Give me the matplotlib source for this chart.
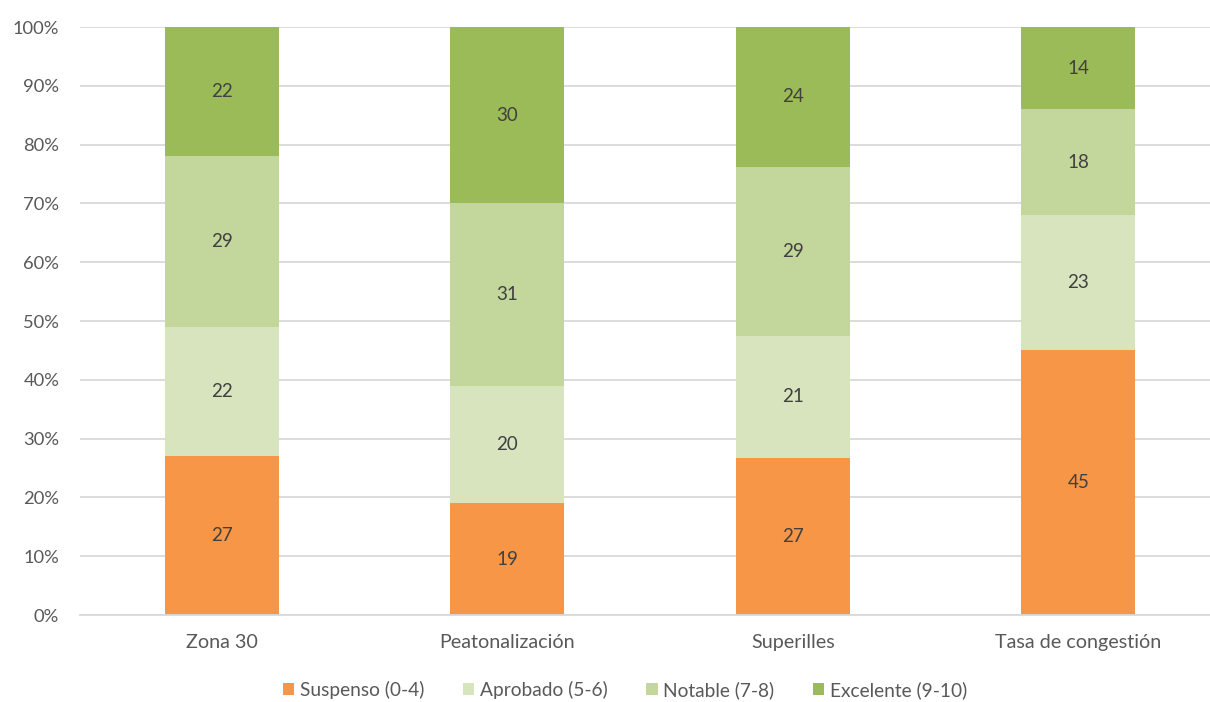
import matplotlib
matplotlib.use("Agg")
import matplotlib.pyplot as plt
import numpy as np

categories = ["Zona 30", "Peatonalización", "Superilles", "Tasa de congestión"]
series_names = ["Suspenso (0-4)", "Aprobado (5-6)", "Notable (7-8)", "Excelente (9-10)"]
suspenso = [27, 19, 27, 45]
aprobado = [22, 20, 21, 23]
notable = [29, 31, 29, 18]
excelente = [22, 30, 24, 14]
y_ticks = [0, 10, 20, 30, 40, 50, 60, 70, 80, 90, 100]

colors = ["#F79646", "#D7E4BD", "#C3D69B", "#9BBB59"]
text_grey = "#595959"
label_grey = "#404040"

plt.rcParams["font.family"] = ["Lato", "DejaVu Sans"]

fig = plt.figure(figsize=(12.10, 7.02), dpi=100)
ax = fig.add_axes([80 / 1210, 87 / 702, 1130 / 1210, 588 / 702])

data = np.array([suspenso, aprobado, notable, excelente], dtype=float)
totals = data.sum(axis=0)
shares = data / totals * 100
x = np.arange(len(categories))
bottom = np.zeros(len(categories))
for name, vals, share, col in zip(series_names, data, shares, colors):
    ax.bar(x, share, 0.4, bottom=bottom, color=col, label=name, zorder=2)
    for xi, b, s, v in zip(x, bottom, share, vals):
        ax.text(xi, b + s / 2, f"{int(v)}", ha="center", va="center",
                fontsize=13.5, color=label_grey, zorder=3)
    bottom += share

ax.set_xlim(-0.497, 3.461)
ax.set_ylim(0, 100)
ax.set_yticks(y_ticks)
ax.set_yticklabels([f"{t}%" for t in y_ticks])
ax.set_xticks(x)
ax.set_xticklabels(categories)
ax.yaxis.grid(True, color="#D9D9D9", linewidth=1.3, zorder=0)
ax.set_axisbelow(True)
for side in ["top", "right", "left"]:
    ax.spines[side].set_visible(False)
ax.spines["bottom"].set_color("#D9D9D9")
ax.spines["bottom"].set_linewidth(1.3)
ax.tick_params(axis="both", length=0, colors=text_grey)
ax.tick_params(axis="y", labelsize=13.2, pad=15)
ax.tick_params(axis="x", labelsize=14.2, pad=14)

leg = fig.legend(loc="center", bbox_to_anchor=(625 / 1210, 1 - 690 / 702), ncol=4,
                 frameon=False, fontsize=13.8, handlelength=0.6, handleheight=0.6,
                 handletextpad=0.3, columnspacing=2.0)
for t in leg.get_texts():
    t.set_color(text_grey)

fig.savefig("out.png", dpi=100)
